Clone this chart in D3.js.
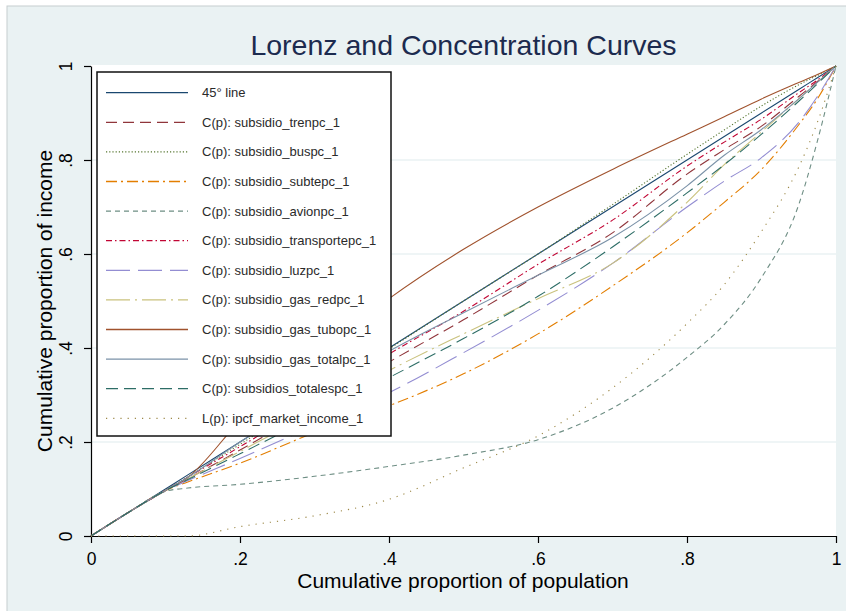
<!DOCTYPE html>
<html>
<head>
<meta charset="utf-8">
<script src="https://cdn.jsdelivr.net/npm/d3@7"></script>
<style>
  body { margin: 0; background: #fff; }
  text { font-family: Arial, "Liberation Sans", sans-serif; }
</style>
</head>
<body>
<script>
const popShare = [0, .05, .1, .13, .2, .3, .4, .5, .6, .7, .8, .85, .9, .95, .975, 1];

const line45      = [0, .05, .1, .13, .2, .3, .4, .5, .6, .7, .8, .85, .9, .95, .975, 1];
const trenpc      = [0, .05, .097, .122, .183, .275, .37, .46, .555, .645, .77, .822, .872, .935, .967, 1];
const buspc       = [0, .05, .097, .126, .195, .295, .398, .5, .6, .705, .812, .864, .915, .96, .98, 1];
const subtepc     = [0, .05, .097, .115, .155, .22, .277, .345, .43, .532, .645, .71, .78, .875, .93, 1];
const avionpc     = [0, .05, .095, .102, .11, .127, .148, .172, .205, .272, .38, .45, .55, .705, .84, 1];
const transpc     = [0, .05, .097, .125, .19, .285, .387, .478, .578, .672, .787, .838, .887, .943, .97, 1];
const luzpc       = [0, .05, .097, .118, .165, .235, .305, .39, .48, .58, .70, .755, .805, .88, .935, 1];
const gasRedpc    = [0, .05, .097, .122, .18, .265, .352, .43, .505, .58, .71, .79, .86, .93, .965, 1];
const gasTubopc   = [0, .05, .097, .125, .245, .38, .505, .61, .70, .78, .855, .892, .93, .965, .982, 1];
const gasTotalpc  = [0, .05, .097, .125, .2, .298, .393, .475, .555, .635, .745, .81, .865, .93, .965, 1];
const totalespc   = [0, .05, .097, .12, .175, .255, .337, .42, .51, .615, .73, .79, .855, .925, .962, 1];
const marketInc   = [0, 0, 0, 0, .02, .043, .078, .145, .213, .315, .452, .535, .648, .785, .88, 1];

const labels = [
  "45° line",
  "C(p): subsidio_trenpc_1",
  "C(p): subsidio_buspc_1",
  "C(p): subsidio_subtepc_1",
  "C(p): subsidio_avionpc_1",
  "C(p): subsidio_transportepc_1",
  "C(p): subsidio_luzpc_1",
  "C(p): subsidio_gas_redpc_1",
  "C(p): subsidio_gas_tubopc_1",
  "C(p): subsidio_gas_totalpc_1",
  "C(p): subsidios_totalespc_1",
  "L(p): ipcf_market_income_1"
];
const values = [line45, trenpc, buspc, subtepc, avionpc, transpc, luzpc,
  gasRedpc, gasTubopc, gasTotalpc, totalespc, marketInc];

const tickVals = [0, .2, .4, .6, .8, 1];
const tickLabels = ["0", ".2", ".4", ".6", ".8", "1"];

// stata s2color look
const colors = ["#1a476f", "#90353b", "#55752f", "#e37e00", "#6e8e84", "#c10534",
  "#938dd2", "#cac27e", "#a0522d", "#7b92a8", "#2d6d66", "#9c8847"];
const dashes = [null, "11,6", "1.2,2", "11,4,2,4", "5,4", "6,3,1.5,3",
  "24,8", "24,5,2,5", null, null, "12,6", "1.2,6"];

const [width, height] = [846, 611];
const x = d3.scaleLinear().domain([0, 1]).range([91, 836]);
const y = d3.scaleLinear().domain([0, 1]).range([536, 66]);

const svg = d3.select("body").append("svg")
  .attr("width", width)
  .attr("height", height);

svg.append("rect")
  .attr("x", 7).attr("y", 6)
  .attr("width", width).attr("height", height)
  .attr("fill", "#eaf2f3")
  .attr("stroke", "#c6cdd0");

svg.append("rect")
  .attr("x", x(0)).attr("y", y(1) - 1)
  .attr("width", x(1) - x(0)).attr("height", y(0) - y(1) + 1)
  .attr("fill", "#fff");

svg.append("g")
  .selectAll("line")
  .data([.2, .4, .6, .8])
  .enter()
  .append("line")
  .attr("x1", x(0)).attr("x2", x(1))
  .attr("y1", d => y(d)).attr("y2", d => y(d))
  .attr("stroke", "#eaf2f3")
  .attr("stroke-width", 1.3);

const fmt = d => tickLabels[tickVals.indexOf(d)];

const xAxis = svg.append("g")
  .attr("transform", `translate(0,${y(0)})`)
  .call(d3.axisBottom(x).tickValues(tickVals).tickSize(7).tickSizeOuter(0).tickFormat(fmt));
xAxis.selectAll("text")
  .attr("y", 29).attr("dy", 0)
  .attr("font-size", 17.5).attr("fill", "#000");

const yAxis = svg.append("g")
  .attr("transform", `translate(${x(0)},0)`)
  .call(d3.axisLeft(y).tickValues(tickVals).tickSize(7).tickSizeOuter(0).tickFormat(fmt));
yAxis.selectAll("text")
  .attr("x", 0).attr("dy", 0)
  .attr("text-anchor", "middle")
  .attr("transform", "translate(-19,0) rotate(-90)")
  .attr("font-size", 17.5).attr("fill", "#000");

svg.selectAll(".domain, .tick line")
  .attr("stroke", "#000")
  .attr("stroke-width", 1.2);

const line = d3.line()
  .x((d, i) => x(popShare[i]))
  .y(d => y(d))
  .curve(d3.curveMonotoneX);

svg.append("g")
  .selectAll("path")
  .data(values)
  .enter()
  .append("path")
  .attr("d", line)
  .attr("fill", "none")
  .attr("stroke", (d, i) => colors[i])
  .attr("stroke-width", 1.1)
  .attr("stroke-dasharray", (d, i) => dashes[i]);

// legend
const legend = svg.append("g");
legend.append("rect")
  .attr("x", 97).attr("y", 72)
  .attr("width", 294).attr("height", 364)
  .attr("fill", "#fff")
  .attr("stroke", "#111")
  .attr("stroke-width", 1.5);

const row = legend.selectAll(".row")
  .data(labels)
  .enter()
  .append("g")
  .attr("transform", (d, i) => `translate(0,${92.7 + i * 29.6})`);

row.append("line")
  .attr("x1", 106).attr("x2", 188)
  .attr("stroke", (d, i) => colors[i])
  .attr("stroke-width", 1.3)
  .attr("stroke-dasharray", (d, i) => dashes[i]);

row.append("text")
  .attr("x", 202).attr("dy", "0.35em")
  .attr("font-size", 13)
  .attr("fill", "#2a2a2a")
  .text(d => d);

svg.append("text")
  .attr("x", 463.5).attr("y", 55)
  .attr("text-anchor", "middle")
  .attr("font-size", 28.5)
  .attr("fill", "#1c2b4f")
  .text("Lorenz and Concentration Curves");

svg.append("text")
  .attr("x", 463).attr("y", 588)
  .attr("text-anchor", "middle")
  .attr("font-size", 21)
  .attr("fill", "#000")
  .text("Cumulative proportion of population");

svg.append("text")
  .attr("transform", `translate(52,${(y(0) + y(1)) / 2}) rotate(-90)`)
  .attr("text-anchor", "middle")
  .attr("font-size", 21)
  .attr("fill", "#000")
  .text("Cumulative proportion of income");
</script>
</body>
</html>
